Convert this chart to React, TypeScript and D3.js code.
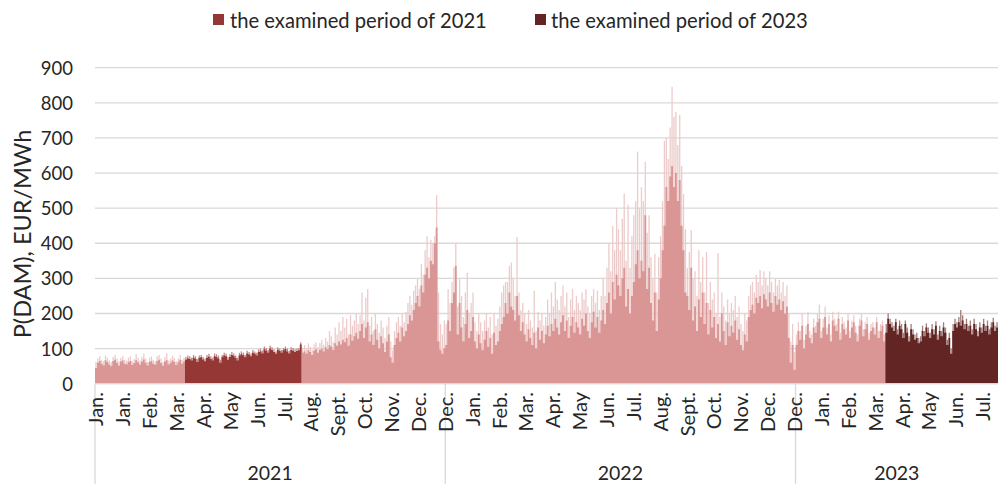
import React from "react";
import * as d3 from "d3";

const legendLabels = ["the examined period of 2021", "the examined period of 2023"];
const yTicks = [0, 100, 200, 300, 400, 500, 600, 700, 800, 900];
const yTitle = "P(DAM), EUR/MWh";
const monthLabels = [
  "Jan.", "Jan.", "Feb.", "Mar.", "Apr.", "May", "Jun.", "Jul.", "Aug.", "Sept.", "Oct.", "Nov.", "Dec.",
  "Dec.", "Jan.", "Feb.", "Mar.", "Apr.", "May", "Jun.", "Jul.", "Aug.", "Sept.", "Oct.", "Nov.", "Dec.",
  "Dec.", "Jan.", "Feb.", "Mar.", "Apr.", "May", "Jun.", "Jul.",
];
const years = ["2021", "2022", "2023"];
const yearStarts = ["2021-01-01", "2022-01-01", "2023-01-01"];
const dataEnd = "2023-07-31";
const examined2021 = ["2021-04-05", "2021-08-05"];
const examined2023 = ["2023-04-04", "2023-07-31"];

// two-day bins: typical level (solid) and the bin's highest spike (light)
const base2021 = [
  45, 60, 65, 57, 52, 67, 62, 55, 50, 65,
  68, 60, 52, 63, 66, 57, 55, 62, 65, 53,
  59, 67, 61, 55, 63, 69, 60, 52, 62, 65,
  57, 54, 65, 68, 59, 51, 63, 67, 55, 60,
  66, 62, 53, 61, 68, 57, 63,
  68, 72, 70, 66, 74, 71, 62, 73, 75, 69,
  64, 74, 77, 70, 66, 78, 76, 72, 60, 75,
  80, 78, 68, 76, 82, 79, 73, 66, 80, 84,
  81, 75, 86, 83, 78, 88, 85, 80, 90, 92,
  86, 98, 94, 88, 100, 96, 90, 85, 97, 93,
  88, 95, 99, 92, 86, 96, 94, 90, 93, 95, 112,
  88, 92, 85, 95, 90, 82, 94, 98, 88, 96,
  100, 92, 104, 98, 110, 105, 96, 115, 108, 120,
  112, 125, 118, 130, 108, 140, 122, 135, 145, 128,
  150, 170, 130, 160, 175, 120, 140, 110, 155, 125,
  100, 135, 115, 90, 120, 140, 75, 60, 110, 130,
  145, 120, 160, 135, 150, 170, 195, 180, 210, 230,
  250, 220, 280, 260, 310, 330, 300, 350, 340, 400,
  445, 120, 95, 85, 100,
];
const peak2021 = [
  62, 72, 78, 68, 64, 80, 74, 66, 62, 76,
  82, 72, 64, 74, 79, 68, 66, 74, 78, 64,
  70, 84, 74, 66, 76, 86, 72, 62, 74, 78,
  68, 64, 78, 82, 72, 62, 76, 87, 66, 72,
  80, 74, 64, 72, 82, 68, 74,
  76, 80, 78, 74, 82, 78, 70, 80, 82, 76,
  72, 82, 85, 78, 74, 86, 84, 80, 68, 82,
  88, 86, 76, 84, 90, 86, 80, 74, 88, 92,
  88, 82, 94, 90, 86, 96, 92, 88, 98, 100,
  94, 106, 102, 96, 108, 104, 98, 92, 104, 100,
  96, 102, 106, 100, 94, 104, 102, 98, 100, 102, 118,
  100, 110, 98, 115, 105, 96, 112, 118, 104, 116,
  125, 110, 130, 120, 150, 135, 118, 160, 140, 175,
  150, 190, 160, 185, 140, 195, 165, 180, 200, 170,
  195, 260, 180, 245, 270, 165, 190, 150, 200, 170,
  145, 180, 160, 130, 165, 190, 120, 95, 150, 175,
  190, 165, 200, 175, 205, 230, 250, 225, 265, 280,
  300, 270, 340, 310, 380, 420, 360, 410, 400, 420,
  537, 260, 170, 140, 180,
];
const base2022 = [
  110, 180, 150, 230, 260, 335, 140, 230, 160, 120,
  170, 210, 130, 150, 190, 120, 100, 140, 115, 95,
  125, 150, 105, 130, 85, 145, 110, 120, 150, 170,
  190, 230, 200, 260, 220, 210, 180, 250, 195, 150,
  175, 140, 120, 155, 130, 110, 145, 100, 160, 125,
  150, 115, 140, 165, 135, 170, 150, 185, 160, 140,
  175, 195, 150, 180, 130, 165, 190, 145, 175, 160,
  140, 185, 165, 200, 150, 130, 175, 205, 160, 190,
  145, 180, 210, 170, 230, 260, 200, 290, 240, 310,
  280, 250, 300, 330, 220, 270, 200, 250, 290, 340,
  380, 300, 350, 320, 480, 270, 330, 230, 180, 260,
  150, 240, 300, 380, 450, 560, 520, 590, 620, 560,
  600, 520, 580, 450, 380, 260, 250, 210, 330, 180,
  220, 150, 240, 190, 260, 170, 230, 140, 210, 160,
  190, 130, 170, 120, 200, 150, 110, 175, 135, 165,
  145, 180, 125, 155, 110, 95, 140, 120, 190, 210,
  225, 200, 245, 230, 250, 215, 255, 240, 220, 260,
  230, 205, 250, 225, 240, 210, 235, 200, 220, 130,
  60, 110, 40,
];
const peak2022 = [
  170, 270, 230, 290, 330, 400, 220, 300, 250, 190,
  260, 316, 200, 230, 260, 175, 150, 200, 175, 150,
  180, 200, 160, 190, 140, 200, 165, 185, 220, 260,
  280, 290, 290, 335, 345, 300, 250, 418, 260, 210,
  230, 200, 170, 210, 180, 160, 265, 150, 205, 180,
  200, 165, 190, 240, 200, 260, 220, 290, 240, 210,
  250, 280, 220, 260, 190, 240, 270, 210, 250, 230,
  210, 260, 240, 270, 220, 200, 250, 270, 230, 265,
  210, 250, 300, 250, 330, 400, 320, 450, 380, 500,
  440, 380, 470, 542, 350, 510, 330, 420, 480, 520,
  661, 500, 560, 520, 632, 430, 480, 360, 300, 370,
  260, 360, 420, 520, 692, 700, 640, 730, 846, 760,
  774, 680, 765, 620, 540, 440, 330, 375, 437, 300,
  320, 250, 380, 290, 360, 260, 375, 230, 290, 240,
  260, 200, 372, 190, 260, 220, 180, 240, 200, 230,
  210, 250, 190, 220, 170, 150, 200, 180, 250, 280,
  290, 260, 310, 290, 324, 280, 320, 300, 280, 320,
  290, 260, 300, 280, 295, 260, 290, 250, 280, 200,
  120, 170, 90,
];
const base2023 = [
  110, 150, 125, 165, 100, 140, 170, 130, 115, 160,
  145, 175, 185, 130, 160, 190, 140, 170, 120, 180,
  165, 150, 185, 125, 170, 155, 140, 180, 130, 160,
  175, 145, 120, 165, 180, 135, 155, 170, 125, 150,
  160, 140, 175, 130, 150, 165, 120, 145, 185, 170,
  160, 150, 175, 140, 165, 155, 130, 170, 145, 120,
  155, 140, 125, 130, 115, 120, 150, 135, 160, 145,
  130, 155, 140, 165, 125, 150, 135, 160, 145, 110,
  130, 85, 150, 170, 160, 175, 165, 180, 155, 170,
  150, 165, 140, 170, 155, 135, 160, 145, 170, 150,
  165, 140, 160, 175, 150, 160,
];
const peak2023 = [
  140, 175, 150, 200, 125, 165, 205, 150, 140, 185,
  165, 200, 225, 150, 185, 220, 160, 195, 140, 205,
  185, 170, 205, 145, 190, 175, 160, 200, 150, 180,
  195, 165, 140, 185, 200, 155, 175, 190, 145, 170,
  175, 160, 190, 150, 170, 180, 140, 170, 200, 185,
  175, 165, 185, 155, 180, 170, 145, 180, 160, 135,
  170, 155, 140, 145, 130, 135, 165, 150, 172, 160,
  145, 170, 155, 178, 140, 165, 150, 175, 160, 125,
  145, 100, 170, 185, 175, 190, 210, 195, 170, 185,
  165, 180, 155, 185, 170, 150, 175, 160, 185, 165,
  180, 155, 175, 188, 165, 175,
];

const LIGHT = "#d99694";
const DARK21 = "#953735";
const DARK23 = "#632523";
const GRID = "#d9d9d9";
const TEXT = "#262626";
const FONT = "Lato, 'Open Sans', sans-serif";

export default function App() {
  const W = 998;
  const H = 484;
  const left = 95;
  const right = 998;
  const top = 67.7;
  const bottom = 383.7;

  const parse = d3.utcParse("%Y-%m-%d");
  const t0 = parse(yearStarts[0]) as Date;
  const dayOf = (s: string) => d3.utcDay.count(t0, parse(s) as Date);
  const totalDays = dayOf(dataEnd);

  const x = d3.scaleLinear().domain([0, totalDays]).range([left, right]);
  const y = d3.scaleLinear().domain([0, 900]).range([bottom, top]);

  const series = [
    [base2021, peak2021],
    [base2022, peak2022],
    [base2023, peak2023],
  ];
  const yearBounds = yearStarts.map(dayOf).concat([totalDays]);
  const ex = [examined2021, examined2023].map(([a, b]) => [dayOf(a), dayOf(b)]);

  type Bin = { s: number; e: number; base: number; peak: number; color: string };
  const bins: Bin[] = [];
  series.forEach(([b, p], yi) => {
    const d0 = yearBounds[yi];
    const d1 = yearBounds[yi + 1];
    const w = (d1 - d0) / b.length;
    b.forEach((v, j) => {
      const s = d0 + j * w;
      const mid = s + w / 2;
      let color = LIGHT;
      if (mid >= ex[0][0] && mid < ex[0][1]) color = DARK21;
      else if (mid >= ex[1][0] && mid < ex[1][1]) color = DARK23;
      bins.push({ s, e: s + w, base: v, peak: Math.max(v, p[j]), color });
    });
  });

  // group consecutive bins of the same colour into one seamless step area
  const groups: Bin[][] = [];
  bins.forEach((b) => {
    const g = groups[groups.length - 1];
    if (g && g[0].color === b.color) g.push(b);
    else groups.push([b]);
  });

  type Pt = { d: number; v: number };
  const area = d3
    .area<Pt>()
    .x((p) => x(p.d))
    .y0(y(0))
    .y1((p) => y(p.v))
    .curve(d3.curveStepAfter);

  const lighten = (c: string) => d3.interpolateRgb(c, "#ffffff")(c === LIGHT ? 0.5 : 0.4);

  return (
    <svg width={W} height={H} style={{ position: "absolute", left: 0, top: 0, background: "#fff" }} fontFamily={FONT}>
      <rect x={0} y={0} width={W} height={H} fill="#ffffff" />
      {/* legend */}
      <g>
        <rect x={213} y={14} width={11} height={11} fill={DARK21} />
        <text x={230} y={20} fontSize={20.2} dominantBaseline="central" fill={TEXT}>{legendLabels[0]}</text>
        <rect x={535} y={14} width={11} height={11} fill={DARK23} />
        <text x={551} y={20} fontSize={20.2} dominantBaseline="central" fill={TEXT}>{legendLabels[1]}</text>
      </g>
      {/* gridlines */}
      {yTicks.map((t) => (
        <line key={t} x1={left} x2={right} y1={y(t)} y2={y(t)} stroke={GRID} strokeWidth={1.3} />
      ))}
      {/* spikes */}
      <g>
        {bins.map((d, i) =>
          d.peak > d.base ? (
            <line
              key={"p" + i}
              x1={x((d.s + d.e) / 2)}
              x2={x((d.s + d.e) / 2)}
              y1={y(d.base) + 1}
              y2={y(d.peak)}
              stroke={lighten(d.color)}
              strokeWidth={1.3}
            />
          ) : null
        )}
      </g>
      {/* solid areas */}
      <g>
        {groups.map((g, i) => {
          const pts: Pt[] = g.map((b) => ({ d: b.s, v: b.base }));
          const last = g[g.length - 1];
          pts.push({ d: last.e, v: last.base });
          return <path key={i} d={area(pts) as string} fill={g[0].color} />;
        })}
      </g>
      {/* y tick labels */}
      {yTicks.map((t) => (
        <text key={t} x={73} y={y(t)} textAnchor="end" dominantBaseline="central" fontSize={18.5} fill={TEXT}>{t}</text>
      ))}
      <text transform={`translate(22,234) rotate(-90)`} textAnchor="middle" dominantBaseline="central" fontSize={23.5} fill={TEXT}>{yTitle}</text>
      {/* x axis */}
      <line x1={left} x2={right} y1={bottom} y2={bottom} stroke={GRID} strokeWidth={1.3} />
      {yearBounds.slice(0, 3).map((d, i) => (
        <line key={i} x1={x(d)} x2={x(d)} y1={bottom} y2={H} stroke={GRID} strokeWidth={1.3} />
      ))}
      {monthLabels.map((m, i) => (
        <text key={i} transform={`translate(${x(i * 28 + 0.5)},392) rotate(-90)`} textAnchor="end" dominantBaseline="central" fontSize={20} fill={TEXT}>{m}</text>
      ))}
      {years.map((yr, i) => (
        <text key={yr} x={(x(yearBounds[i]) + x(yearBounds[i + 1])) / 2} y={480} textAnchor="middle" fontSize={19.5} fill={TEXT}>{yr}</text>
      ))}
    </svg>
  );
}
